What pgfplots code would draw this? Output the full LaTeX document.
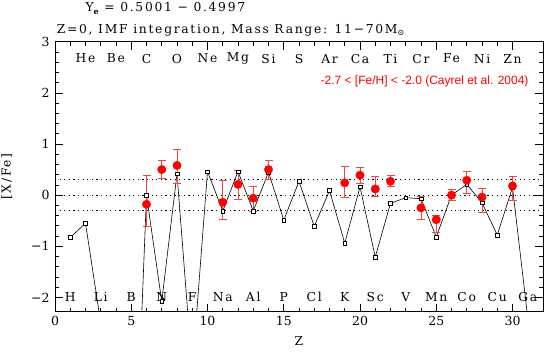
\documentclass[border=0pt]{standalone}
\usepackage{fontspec}
\usepackage{pgfplots}
\usepackage{pgfplotstable}
\pgfplotsset{compat=1.18}
\newfontfamily\redsans{Liberation Sans}
\newfontfamily\hfont[LetterSpace=14]{DejaVu Serif}
\newfontfamily\tfont{DejaVu Serif}
\newcommand\hs{\hfont\fontsize{12.3}{14}\selectfont}

\pgfplotstableread{
Z y
1 -0.83
2 -0.55
3 -2.50
4 -5.00
5 -7.50
6 0.00
7 -2.08
8 0.42
9 -3.44
10 0.46
11 -0.31
12 0.46
13 -0.31
14 0.45
15 -0.49
16 0.27
17 -0.61
18 0.09
19 -0.94
20 0.16
21 -1.21
22 -0.16
23 -0.05
24 -0.07
25 -0.82
26 0.00
27 0.21
28 -0.15
29 -0.78
30 0.15
31 -2.40
}\model

\pgfplotstableread{
Z y ep em
6 -0.18 0.56 0.43
7 0.50 0.17 0.17
8 0.58 0.31 0.35
11 -0.14 0.43 0.34
12 0.21 0.27 0.29
13 -0.06 0.24 0.25
14 0.50 0.17 0.19
19 0.24 0.33 0.28
20 0.39 0.15 0.17
21 0.12 0.25 0.14
22 0.27 0.11 0.10
24 -0.25 0.23 0.22
25 -0.48 0.09 0.24
26 0.00 0.12 0.11
27 0.29 0.17 0.26
28 -0.04 0.18 0.29
30 0.18 0.19 0.28
}\obs

\begin{document}
\begin{tikzpicture}
\begin{axis}[
  width=488pt, height=270pt, scale only axis,
  xmin=0, xmax=32, ymin=-2.28, ymax=3,
  xtick={0,5,...,30}, minor x tick num=4,
  ytick={-2,-1,0,1,2,3}, minor y tick num=4,
  yticklabels={−2,−1,0,1,2,3},
  /pgf/number format/assume math mode=true,
  tick align=inside,
  major tick length=8pt, minor tick length=4pt,
  axis line style={line width=0.8pt},
  every tick/.style={line width=0.6pt, black},
  tick label style={font=\tfont\fontsize{12.5}{14}\selectfont},
  xticklabel style={yshift=-1pt},
  yticklabel style={xshift=-2pt},
  xlabel={\hs Z}, ylabel={\hs [X/Fe]},
  xlabel style={at={(axis description cs:0.5,-0.107)}, anchor=center},
  ylabel style={at={(axis description cs:-0.099,0.5)}, anchor=center},
  clip=true,
]
\addplot[black, line width=0.7pt, dash pattern=on 1.2pt off 3.4pt] coordinates {(0,0.3) (32,0.3)};
\addplot[black, line width=0.7pt, dash pattern=on 1.2pt off 3.4pt] coordinates {(0,0) (32,0)};
\addplot[black, line width=0.7pt, dash pattern=on 1.2pt off 3.4pt] coordinates {(0,-0.3) (32,-0.3)};
\addplot[black, line width=0.6pt, mark=square*, mark size=1.8pt,
  mark options={fill=white, draw=black, line width=0.5pt}] table[x=Z, y=y] {\model};
\addplot[only marks, mark=*, mark size=4.2pt, red, mark options={fill=red, draw=red},
  error bars/.cd, y dir=both, y explicit,
  error bar style={red!75, line width=0.8pt},
  error mark options={rotate=90, mark size=4pt, red!75, line width=0.8pt}]
  table[x=Z, y=y, y error plus=ep, y error minus=em] {\obs};

\foreach \el/\z in {He/2,Be/4,C/6,O/8,Ne/10,Mg/12,Si/14,S/16,Ar/18,Ca/20,Ti/22,Cr/24,Fe/26,Ni/28,Zn/30}{
  \edef\temp{\noexpand\node[font=\noexpand\hs] at (axis cs:\z,2.67) {\el};}\temp
}
\foreach \el/\z in {H/1,Li/3,B/5,N/7,F/9,Na/11,Al/13,P/15,Cl/17,K/19,Sc/21,V/23,Mn/25,Co/27,Cu/29,Ga/31}{
  \edef\temp{\noexpand\node[font=\noexpand\hs] at (axis cs:\z,-1.99) {\el};}\temp
}
\node[anchor=east, text=red, font=\redsans\fontsize{12}{14}\selectfont] at (axis cs:31.28,2.22)
  {-2.7 < [Fe/H] < -2.0 (Cayrel et al. 2004)};
\end{axis}
\node[anchor=base west, font=\hs] at ([shift={(27pt,30pt)}]current axis.north west)
  {Y\raisebox{-2.5pt}{\fontsize{8}{9}\selectfont\bfseries e} = 0.5001 − 0.4997};
\node[anchor=base west, font=\hs] at ([shift={(-1.7pt,8.4pt)}]current axis.north west)
  {Z=0, IMF integration, Mass Range: 11−70M\raisebox{-2.5pt}{\fontsize{8}{9}\selectfont ⊙}};
\pgfresetboundingbox
\path[use as bounding box] ([shift={(-55pt,-39.3pt)}]current axis.south west) rectangle ([shift={(2pt,41.7pt)}]current axis.north east);
\end{tikzpicture}
\end{document}
